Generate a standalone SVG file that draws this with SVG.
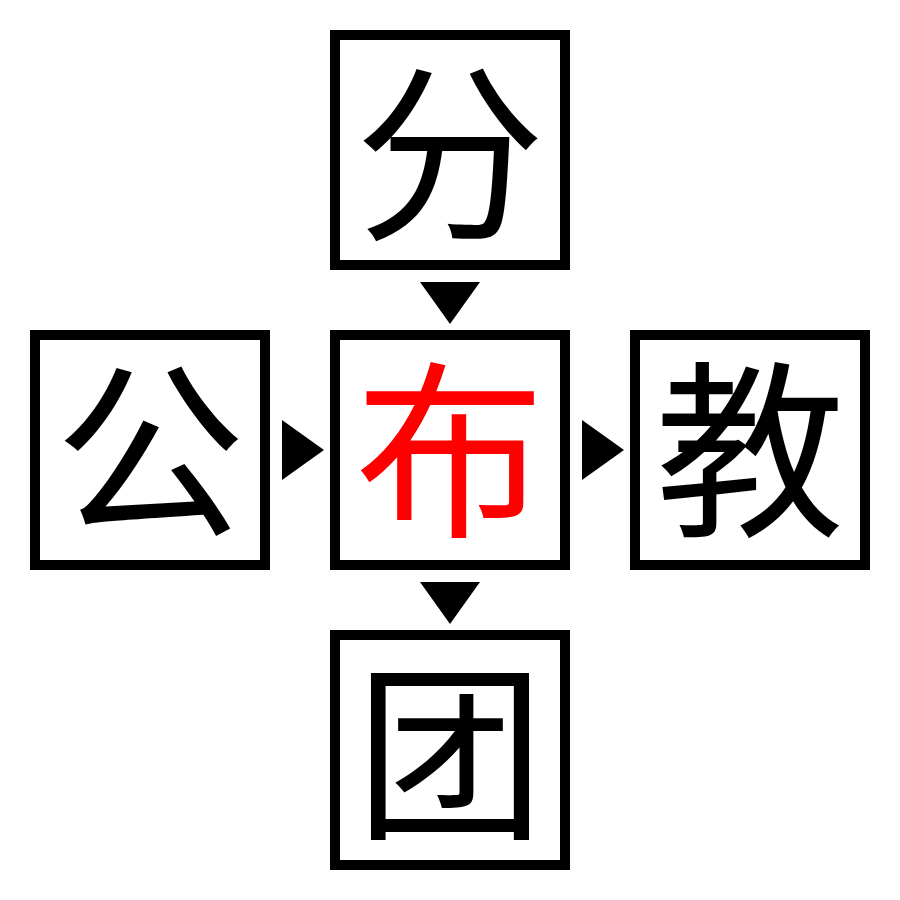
<svg xmlns="http://www.w3.org/2000/svg" width="900" height="900" viewBox="0 0 900 900">
<style>
.box{fill:#fff;stroke:#000;stroke-width:10}
.ch{font-family:"Noto Sans CJK SC","Noto Sans CJK JP",sans-serif;font-size:190px;text-anchor:middle;fill:#000}
.red{fill:#ff0000}
.arr{fill:#000}
</style>
<rect width="900" height="900" fill="#fff"/>
<g id="connectors">
<polygon class="arr" points="420,282 480,282 450,324"/>
<polygon class="arr" points="420,582 480,582 450,624"/>
<polygon class="arr" points="282,420 282,480 324,450"/>
<polygon class="arr" points="582,420 582,480 624,450"/>
</g>
<g id="node-top"><rect class="box" x="335" y="35" width="230" height="230"/><text class="ch" x="450" y="225">分</text></g>
<g id="node-left"><rect class="box" x="35" y="335" width="230" height="230"/><text class="ch" x="150" y="522">公</text></g>
<g id="node-center"><rect class="box" x="335" y="335" width="230" height="230"/><text class="ch red" x="450" y="522">布</text></g>
<g id="node-right"><rect class="box" x="635" y="335" width="230" height="230"/><text class="ch" x="750" y="522">教</text></g>
<g id="node-bottom"><rect class="box" x="335" y="635" width="230" height="230"/><text class="ch" x="450" y="824">团</text></g>
</svg>
